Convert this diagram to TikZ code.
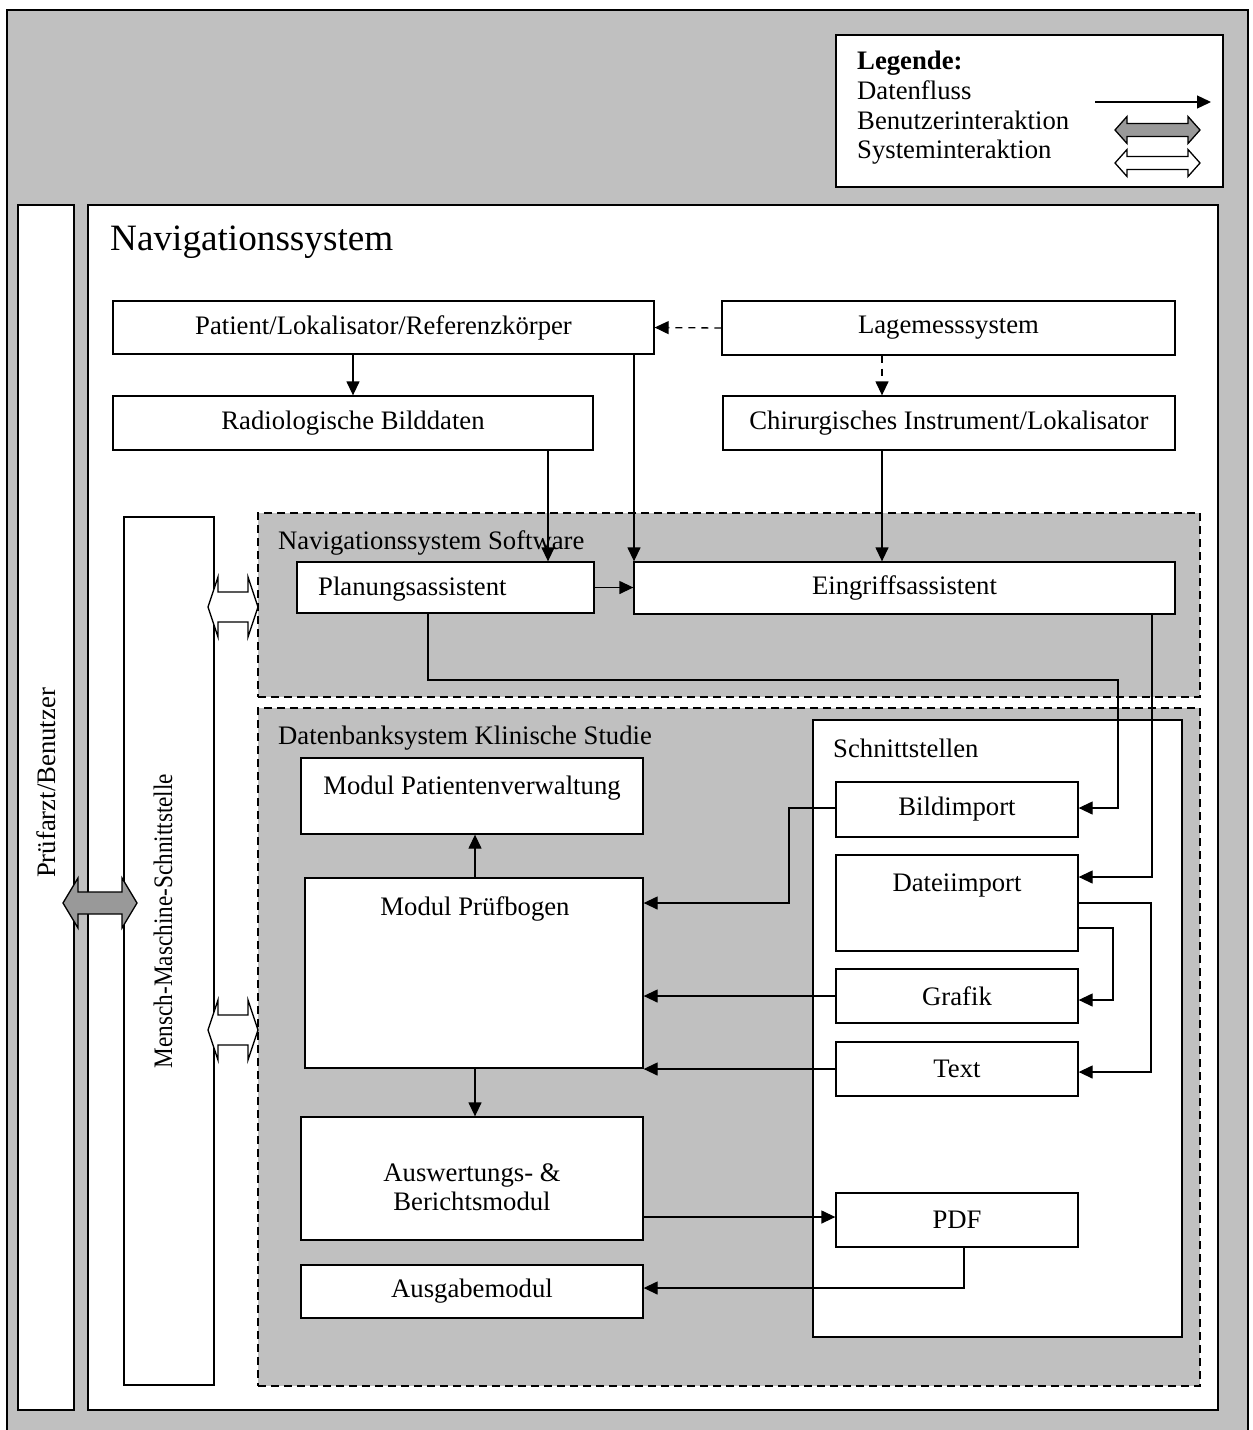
\documentclass[tikz,border=0pt]{standalone}
\usepackage{fontspec}
\setmainfont{Liberation Serif}
\usetikzlibrary{arrows.meta,calc}
\definecolor{areagray}{HTML}{C0C0C0}
\definecolor{usergray}{HTML}{999999}

\tikzset{
  pics/dblarrow/.style n args={5}{code={
    % #1 half length, #2 head length, #3 half head width, #4 half shaft width, #5 fill
    \draw[line width=1.3pt, fill=#5, line join=miter]
      (-#1,0) -- (-#1+#2,-#3) -- (-#1+#2,-#4) -- (#1-#2,-#4) -- (#1-#2,-#3)
      -- (#1,0) -- (#1-#2,#3) -- (#1-#2,#4) -- (-#1+#2,#4) -- (-#1+#2,#3) -- cycle;
  }}
}

\begin{document}
\begin{tikzpicture}[x=1pt,y=-1pt,
  txt/.style={font=\fontsize{26.7}{30}\selectfont, inner sep=0pt},
  box/.style={draw, fill=white, line width=1.3pt, inner sep=0pt,
              font=\fontsize{26.7}{30}\selectfont},
  column/.style={draw, fill=white, line width=1.8pt, inner sep=0pt},
  area/.style={draw, fill=areagray, line width=1.6pt, inner sep=0pt,
               dash pattern=on 8pt off 5pt},
  flow/.style={line width=1.3pt, -{Triangle[length=14pt,width=13pt]}},
  flowdash/.style={flow, dash pattern=on 7pt off 6pt}]

\clip (0,0) rectangle (1253,1430);
\useasboundingbox (0,0) rectangle (1253,1430);

% outer frame
\draw[line width=1.8pt, fill=areagray] (7,10) rectangle (1248,1450);

% legend
\node[box, line width=1.6pt, minimum width=387pt, minimum height=152pt] (legend) at (1029.5,111) {};
\node[txt, anchor=base west, font=\fontsize{26.7}{30}\selectfont\bfseries] (leg-title) at (857,69) {Legende:};
\node[txt, anchor=base west] (leg-flow) at (857,99) {Datenfluss};
\node[txt, anchor=base west] (leg-user) at (857,129) {Benutzerinteraktion};
\node[txt, anchor=base west] (leg-sys) at (857,158) {Systeminteraktion};
\coordinate (leg-a1) at (1095,102);
\coordinate (leg-a2) at (1211,102);
\draw[flow] (leg-a1) -- (leg-a2);
\pic at (1157.5,130) {dblarrow={42.5}{12}{13.5}{6.5}{usergray}};
\pic at (1157.5,163) {dblarrow={42.5}{12}{13.5}{6.5}{white}};

% user column and navigation system frame
\node[column, minimum width=56pt, minimum height=1205pt] (user) at (46,807.5) {};
\node[txt, rotate=90] (user-t) at (46,783) {Prüfarzt/Benutzer};
\node[column, minimum width=1130pt, minimum height=1205pt] (nav) at (653,807.5) {};
\node[txt, anchor=base west, font=\fontsize{37.2}{42}\selectfont] (nav-t) at (110,250) {Navigationssystem};

% human-machine interface
\node[box, minimum width=90pt, minimum height=868pt] (mms) at (169,951) {};
\node[txt, rotate=90] (mms-t) at (163,921) {\scalebox{0.87}[1]{Mensch-Maschine-Schnittstelle}};

% top row
\node[box, minimum width=541pt, minimum height=53pt] (pat) at (383.5,327.5) {Patient/Lokalisator/Referenzkörper};
\node[box, minimum width=453pt, minimum height=54pt] (lage) at (948.5,328) {Lagemesssystem};
\node[box, minimum width=480pt, minimum height=54pt] (rad) at (353,423) {Radiologische Bilddaten};
\node[box, minimum width=452pt, minimum height=54pt] (chir) at (949,423) {Chirurgisches Instrument/Lokalisator};

% software area
\node[area, minimum width=942pt, minimum height=184pt] (sw) at (729,605) {};
\node[txt, anchor=base west] (sw-t) at (278,549) {Navigationssystem Software};
\node[box, minimum width=297pt, minimum height=51pt] (plan) at (445.5,587.5) {};
\node[txt, anchor=west] (plan-t) at (318,589) {Planungsassistent};
\node[box, minimum width=541pt, minimum height=52pt] (ein) at (904.5,588) {Eingriffsassistent};

% database area
\node[area, minimum width=942pt, minimum height=678pt] (db) at (729,1047) {};
\node[txt, anchor=base west] (db-t) at (278,744) {Datenbanksystem Klinische Studie};

\node[box, minimum width=342pt, minimum height=76pt] (pv) at (472,796) {};
\node[txt, anchor=base] (pv-t) at (472,794) {Modul Patientenverwaltung};
\node[box, minimum width=338pt, minimum height=190pt] (pb) at (474,973) {};
\node[txt, anchor=base] (pb-t) at (475,915) {Modul Prüfbogen};
\node[box, minimum width=342pt, minimum height=123pt] (aus) at (472,1178.5) {};
\node[txt, anchor=base] (aus-t1) at (472,1181) {Auswertungs- \&};
\node[txt, anchor=base] (aus-t2) at (472,1210) {Berichtsmodul};
\node[box, minimum width=342pt, minimum height=53pt] (ausg) at (472,1291.5) {Ausgabemodul};

% interfaces
\node[box, minimum width=369pt, minimum height=617pt] (ifc) at (997.5,1028.5) {};
\node[txt, anchor=base west] (ifc-t) at (833,757) {Schnittstellen};
\node[box, minimum width=242pt, minimum height=55pt] (bild) at (957,809.5) {Bildimport};
\node[box, minimum width=242pt, minimum height=96pt] (dat) at (957,903) {};
\node[txt, anchor=base] (dat-t) at (957,891) {Dateiimport};
\node[box, minimum width=242pt, minimum height=54pt] (graf) at (957,996) {Grafik};
\node[box, minimum width=242pt, minimum height=54pt] (text) at (957,1069) {Text};
\node[box, minimum width=242pt, minimum height=54pt] (pdf) at (957,1220) {PDF};

% system and user interaction arrows
\pic at (233,607) {dblarrow={25}{10}{30}{15}{white}};
\pic at (233,1030) {dblarrow={25}{10}{30}{15}{white}};
\pic at (100,903) {dblarrow={37}{15}{25}{11}{usergray}};

% data flow
\draw[flowdash] (lage.west) -- (pat.east);
\draw[flowdash] (lage.south -| 882,0) -- (chir.north -| 882,0);
\draw[flow] (pat.south -| 353,0) -- (rad.north -| 353,0);
\draw[flow] (pat.south -| 634,0) -- (ein.north -| 634,0);
\draw[flow] (rad.south -| 548,0) -- (plan.north -| 548,0);
\draw[flow] (chir.south -| 882,0) -- (ein.north -| 882,0);
\draw[flow] (plan.east) -- (ein.west |- plan.east);
\draw[flow] (plan.south -| 428,0) -- (428,680) -- (1118,680) |- (bild.east |- 0,808);
\draw[flow] (ein.south -| 1152,0) |- (dat.east |- 0,877);
\draw[flow] (dat.east |- 0,903) -- (1151,903) |- (text.east |- 0,1072);
\draw[flow] (dat.east |- 0,928) -- (1113,928) |- (graf.east |- 0,1000);
\draw[flow] (bild.west |- 0,808) -- (789,808) |- (pb.east |- 0,903);
\draw[flow] (graf.west) -- (pb.east |- graf.west);
\draw[flow] (text.west) -- (pb.east |- text.west);
\draw[flow] (pb.north -| 475,0) -- (pv.south -| 475,0);
\draw[flow] (pb.south -| 475,0) -- (aus.north -| 475,0);
\draw[flow] (aus.east |- 0,1217) -- (pdf.west |- 0,1217);
\draw[flow] (pdf.south -| 964,0) |- (ausg.east |- 0,1288);

\end{tikzpicture}
\end{document}
